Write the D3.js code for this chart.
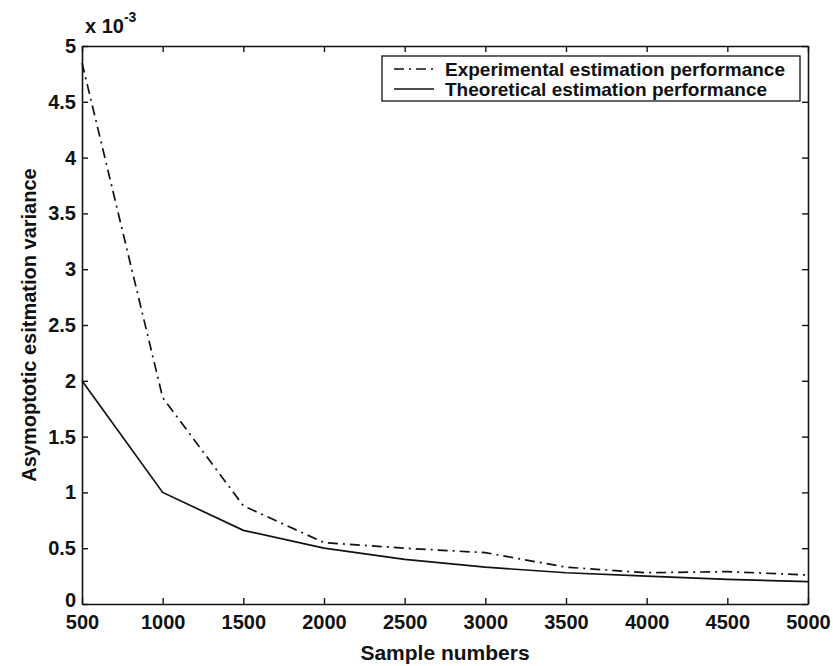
<!DOCTYPE html>
<html>
<head>
<meta charset="utf-8">
<script src="https://cdn.jsdelivr.net/npm/d3@7"></script>
<style>
  body { margin: 0; background: #fff; }
  text { font-family: "Liberation Sans", Arial, sans-serif; font-weight: bold; fill: #111; }
</style>
</head>
<body>
<div id="chart"></div>
<script>
// sample sizes and variances (x 10^-3)
const sampleNumbers = [500, 1000, 1500, 2000, 2500, 3000, 3500, 4000, 4500, 5000];
const experimental  = [4.85, 1.85, 0.88, 0.55, 0.50, 0.46, 0.33, 0.28, 0.29, 0.26];
const theoretical   = [2.0, 1.0, 0.66, 0.50, 0.40, 0.33, 0.28, 0.25, 0.22, 0.20];
const xTicks = [500, 1000, 1500, 2000, 2500, 3000, 3500, 4000, 4500, 5000];
const yTicks = [0, 0.5, 1, 1.5, 2, 2.5, 3, 3.5, 4, 4.5, 5];
const seriesNames = ["Experimental estimation performance", "Theoretical estimation performance"];

const margin = {top: 46, right: 25, bottom: 62, left: 82},
      width = 833 - margin.left - margin.right,
      height = 666 - margin.top - margin.bottom;

const svg = d3.select("#chart")
              .append("svg")
              .attr("width", 833)
              .attr("height", 666)
              .append("g")
              .attr("transform", `translate(${margin.left},${margin.top})`);

const x = d3.scaleLinear().domain([500, 5000]).range([0, width]);
const y = d3.scaleLinear().domain([0, 5]).range([height, 0]);

const tick = 6;

// axes, MATLAB style: ticks inward on all four sides
svg.append("g")
   .attr("transform", `translate(0,${height})`)
   .call(d3.axisBottom(x).tickValues(xTicks).tickSize(-tick).tickPadding(11)
           .tickFormat(d3.format("d")).tickSizeOuter(0))
   .call(g => g.selectAll("text").style("font-size", "20px"));

svg.append("g")
   .call(d3.axisTop(x).tickValues(xTicks).tickSize(-tick).tickFormat("").tickSizeOuter(0));

svg.append("g")
   .call(d3.axisLeft(y).tickValues(yTicks).tickSize(-tick).tickPadding(6)
           .tickFormat(d3.format("")).tickSizeOuter(0))
   .call(g => g.selectAll("text").style("font-size", "20px"))
   // the zero label sits a little above the axis line, as in the original
   .call(g => g.selectAll(".tick text").filter(d => d === 0).attr("dy", "0.12em"));

svg.append("g")
   .attr("transform", `translate(${width},0)`)
   .call(d3.axisRight(y).tickValues(yTicks).tickSize(-tick).tickFormat("").tickSizeOuter(0));

svg.selectAll(".domain").attr("stroke", "#111").attr("stroke-width", 1.6);
svg.selectAll(".tick line").attr("stroke", "#111").attr("stroke-width", 1.4);

// exponent label
const expo = svg.append("text")
   .attr("x", 3)
   .attr("y", -13)
   .style("font-size", "20px");
expo.append("tspan").text("x 10");
expo.append("tspan").attr("dy", -11).style("font-size", "14px").text("-3");

// lines
const line = d3.line()
               .x((d, i) => x(sampleNumbers[i]))
               .y(d => y(d));

svg.append("path")
   .datum(experimental)
   .attr("fill", "none")
   .attr("stroke", "#111")
   .attr("stroke-width", 1.7)
   .attr("stroke-dasharray", "10,5,2,5")
   .attr("d", line);

svg.append("path")
   .datum(theoretical)
   .attr("fill", "none")
   .attr("stroke", "#111")
   .attr("stroke-width", 1.7)
   .attr("d", line);

// axis titles
svg.append("text")
   .attr("x", width / 2)
   .attr("y", height + 56)
   .attr("text-anchor", "middle")
   .style("font-size", "21px")
   .text("Sample numbers");

svg.append("text")
   .attr("transform", `translate(${-46},${height / 2}) rotate(-90)`)
   .attr("text-anchor", "middle")
   .style("font-size", "20px")
   .text("Asymoptotic esitmation variance");

// legend
const legW = 418, legH = 45;
const legend = svg.append("g")
   .attr("transform", `translate(${width - legW - 8},${10})`);

legend.append("rect")
   .attr("width", legW)
   .attr("height", legH)
   .attr("fill", "#fff")
   .attr("stroke", "#111")
   .attr("stroke-width", 1.3);

const dashes = ["10,5,2,5", null];
seriesNames.forEach((name, i) => {
  const ly = 13 + i * 20;
  legend.append("line")
     .attr("x1", 12).attr("x2", 52)
     .attr("y1", ly).attr("y2", ly)
     .attr("stroke", "#111")
     .attr("stroke-width", 1.5)
     .attr("stroke-dasharray", dashes[i]);
  legend.append("text")
     .attr("x", 63)
     .attr("y", ly)
     .attr("dy", "0.35em")
     .style("font-size", "19px")
     .text(name);
});
</script>
</body>
</html>
